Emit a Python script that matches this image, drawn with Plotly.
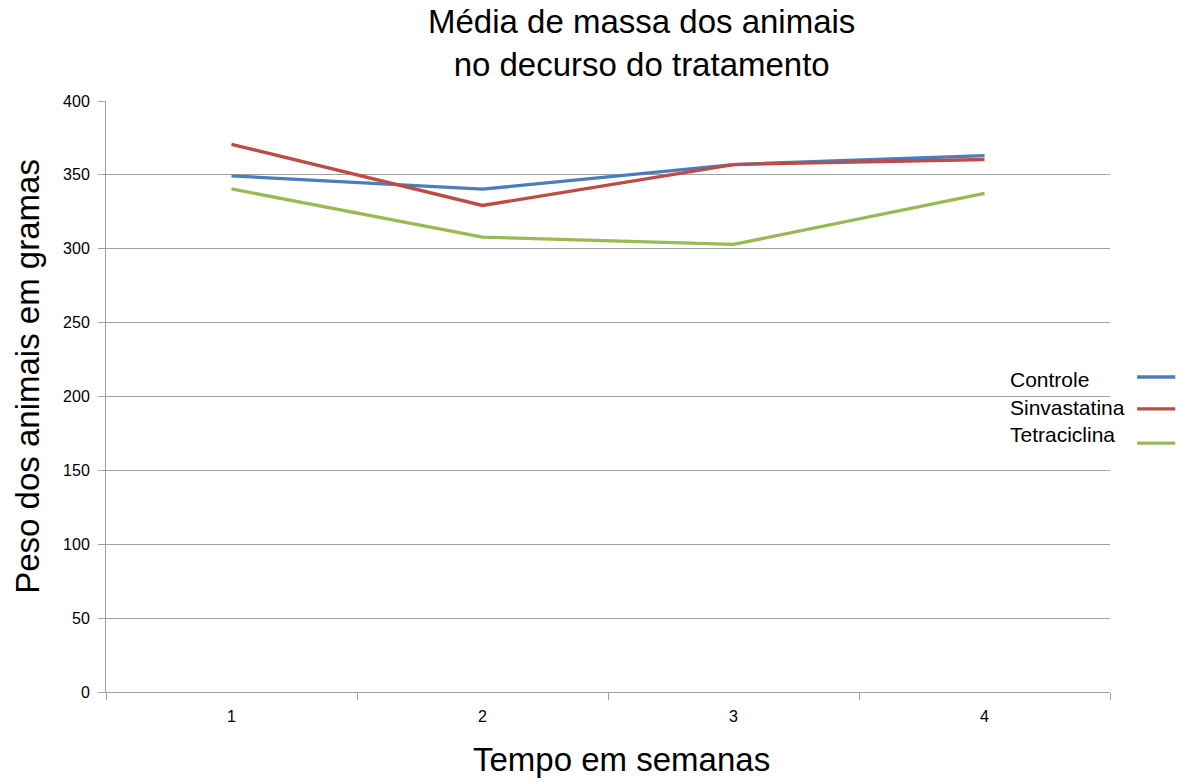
import plotly.graph_objects as go

# Weekly mean body mass (g) per treatment group
semanas = ["1", "2", "3", "4"]
controle = [349.3, 340.3, 357.0, 363.0]
sinvastatina = [370.7, 329.3, 357.0, 360.4]
tetraciclina = [340.5, 307.9, 302.9, 337.4]

series_names = ["Controle", "Sinvastatina", "Tetraciclina"]
series_values = [controle, sinvastatina, tetraciclina]
series_colors = ["#4a7ebb", "#be4b48", "#98b954"]

y_ticks = [0, 50, 100, 150, 200, 250, 300, 350, 400]

FONT = "Liberation Sans, Arial, sans-serif"

fig = go.Figure()
for name, vals, color in zip(series_names, series_values, series_colors):
    fig.add_trace(go.Scatter(
        x=semanas, y=vals, name=name, mode="lines",
        line=dict(color=color, width=3.3),
    ))

# Legend drawn to the right of the plot: labels followed by line samples
legend_y = [0.528, 0.482, 0.4365]
sample_y = [0.533, 0.479, 0.421]
for name, color, ty, sy in zip(series_names, series_colors, legend_y, sample_y):
    fig.add_annotation(
        xref="paper", yref="paper", x=0.898, y=ty, xanchor="left", yanchor="middle",
        text=name, showarrow=False, font=dict(family=FONT, size=21, color="#000000"),
    )
    fig.add_shape(
        type="line", xref="paper", yref="paper",
        x0=1.027, x1=1.065, y0=sy, y1=sy,
        line=dict(color=color, width=3.3),
    )

# Two-line chart title
fig.add_annotation(
    xref="paper", yref="paper", x=0.533, y=1.098, xanchor="center", yanchor="middle",
    text="Média de massa dos animais<br>no decurso do tratamento", showarrow=False,
    font=dict(family=FONT, size=33, color="#000000"),
)

# Axis titles
fig.add_annotation(
    xref="paper", yref="paper", x=0.513, y=-0.115, xanchor="center", yanchor="middle",
    text="Tempo em semanas", showarrow=False,
    font=dict(family=FONT, size=33, color="#000000"),
)
fig.add_annotation(
    xref="paper", yref="paper", x=-0.0777, y=0.535, xanchor="center", yanchor="middle",
    text="Peso dos animais em gramas", showarrow=False, textangle=-90,
    font=dict(family=FONT, size=33, color="#000000"),
)

fig.update_layout(
    width=1179, height=784,
    paper_bgcolor="white", plot_bgcolor="white",
    margin=dict(l=106, r=69, t=101, b=92),
    showlegend=False,
    font=dict(family=FONT, color="#000000"),
    xaxis=dict(
        type="category",
        range=[-0.5, 3.5],
        tickson="boundaries",
        ticks="outside", ticklen=7, tickcolor="#a0a0a0",
        showline=True, linecolor="#a0a0a0", linewidth=1,
        showgrid=False, zeroline=False,
        ticklabelstandoff=10,
        tickfont=dict(family=FONT, size=16, color="#000000"),
    ),
    yaxis=dict(
        range=[0, 400], tickvals=y_ticks,
        ticks="outside", ticklen=7, tickcolor="#a0a0a0",
        showline=True, linecolor="#a0a0a0", linewidth=1,
        showgrid=True, gridcolor="#a0a0a0", gridwidth=1, zeroline=False,
        ticklabelstandoff=5,
        tickfont=dict(family=FONT, size=16, color="#000000"),
    ),
)

fig.write_html("out.html")
